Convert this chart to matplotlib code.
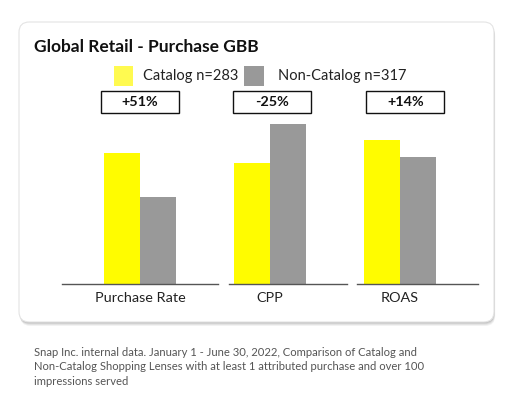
import matplotlib
matplotlib.use("Agg")
import matplotlib.pyplot as plt
from matplotlib.patches import FancyBboxPatch, Rectangle
from matplotlib.transforms import blended_transform_factory
import numpy as np

categories = ["Purchase Rate", "CPP", "ROAS"]
catalog = [131, 121, 144]
non_catalog = [87, 160, 127]
lifts = ["+51%", "-25%", "+14%"]
series_labels = ["Catalog n=283", "Non-Catalog n=317"]
title = "Global Retail - Purchase GBB"
footnote = ("Snap Inc. internal data. January 1 - June 30, 2022, Comparison of Catalog and\n"
            "Non-Catalog Shopping Lenses with at least 1 attributed purchase and over 100\n"
            "impressions served")

YELLOW = "#FFFC00"
GRAY = "#999999"
FONT = "Lato"

W, H = 512, 394
fig = plt.figure(figsize=(W / 100, H / 100), dpi=100)
fig.patch.set_facecolor("white")


def fx(px):
    return px / W


def fy(py):
    return 1 - py / H


# card shadow
for i, a in enumerate([0.05, 0.06, 0.08, 0.10]):
    off = 4 - i
    sh = FancyBboxPatch((fx(19 + off * 0.3), fy(322 + off)), fx(475), 300 / H,
                        boxstyle="round,pad=0,rounding_size=0.02",
                        transform=fig.transFigure, facecolor="black", alpha=a,
                        edgecolor="none", zorder=0, mutation_aspect=W / H)
    fig.patches.append(sh)
card = FancyBboxPatch((fx(19), fy(322)), fx(475), 300 / H,
                      boxstyle="round,pad=0,rounding_size=0.02",
                      transform=fig.transFigure, facecolor="white",
                      edgecolor="#e4e4e4", linewidth=0.8, zorder=1,
                      mutation_aspect=W / H)
fig.patches.append(card)

fig.text(fx(34), fy(47), title, fontsize=12.5, fontweight="bold", family=FONT,
         va="center", ha="left", color="#111111", zorder=5)

# legend
fig.patches.append(Rectangle((fx(114), fy(86)), fx(19), 20 / H, transform=fig.transFigure,
                             facecolor="#FFFA50", edgecolor="none", zorder=5))
fig.text(fx(143), fy(76), series_labels[0], fontsize=10.5, family=FONT, va="center",
         ha="left", color="#222222", zorder=5)
fig.patches.append(Rectangle((fx(244), fy(86)), fx(20), 20 / H, transform=fig.transFigure,
                             facecolor=GRAY, edgecolor="none", zorder=5))
fig.text(fx(278), fy(76), series_labels[1], fontsize=10.5, family=FONT, va="center",
         ha="left", color="#222222", zorder=5)

# axes
ax_left, ax_right = 62, 478
base_y, top_y = 284, 114
ax = fig.add_axes([fx(ax_left), fy(base_y), fx(ax_right - ax_left), (base_y - top_y) / H])
ax.set_zorder(3)
ax.patch.set_alpha(0)
x = np.arange(len(categories))
bw = 0.277
ax.bar(x - 0.142, catalog, width=bw, color=YELLOW, zorder=2)
ax.bar(x + 0.142, non_catalog, width=bw, color=GRAY, zorder=2)
ax.set_xlim(-0.6, 2.6)
ax.set_ylim(0, 170)
for s in ax.spines.values():
    s.set_visible(False)
ax.set_yticks([])
ax.set_xticks(x)
ax.set_xticklabels(categories, fontsize=10.4, family=FONT, color="#222222")
ax.tick_params(axis="x", length=0, pad=6)
for (a, b) in [(-0.6, 0.6), (0.685, 1.592), (1.669, 2.6)]:
    ax.plot([a, b], [0, 0], color="#555555", lw=1, zorder=3, clip_on=False)

# lift boxes
tr = blended_transform_factory(ax.transData, fig.transFigure)
box_offsets = [0.0, 0.015, 0.04]
for i, lab in enumerate(lifts):
    cx = i + box_offsets[i]
    half = 39 / 130
    fig.patches.append(Rectangle((cx - half, fy(113)), 2 * half, 22 / H, transform=tr,
                                 facecolor="white", edgecolor="#111111", lw=1, zorder=6))
    fig.text(cx, fy(102), lab, transform=tr, fontsize=10.4, fontweight="bold", family=FONT,
             ha="center", va="center", color="#111111", zorder=7)

fig.text(fx(34), fy(347), footnote, fontsize=8.1, family=FONT, va="top", ha="left",
         color="#555555", linespacing=1.38)

fig.savefig("out.png", dpi=100, facecolor="white")
